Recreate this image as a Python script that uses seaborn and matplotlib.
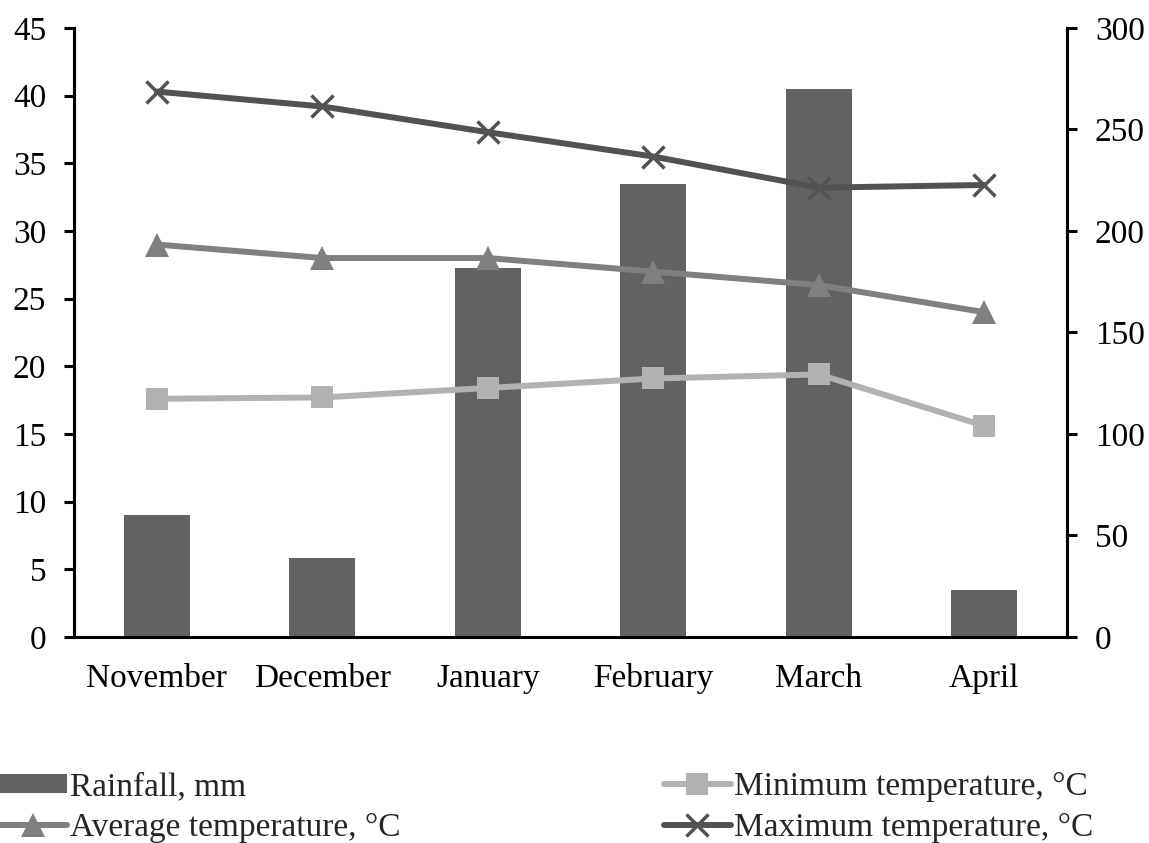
import numpy as np
import pandas as pd
import matplotlib
matplotlib.use("Agg")
import matplotlib.pyplot as plt
import seaborn as sns
from matplotlib.patches import Patch
from matplotlib.lines import Line2D

months = ["November", "December", "January", "February", "March", "April"]
rainfall = [60, 39, 182, 223, 270, 23]
t_min = [17.6, 17.7, 18.4, 19.1, 19.4, 15.6]
t_avg = [29.0, 28.0, 28.0, 27.0, 26.0, 24.0]
t_max = [40.3, 39.2, 37.3, 35.5, 33.2, 33.4]

sns.set_theme(style="white")
plt.rcParams['font.family'] = ['Liberation Serif', 'DejaVu Serif']

df = pd.DataFrame({"month": months, "rain": rainfall, "tmin": t_min,
                   "tavg": t_avg, "tmax": t_max, "pos": np.arange(len(months))})

fig = plt.figure(figsize=(11.49, 8.43), dpi=100)
ax = fig.add_axes([0.0645, 0.2444, 0.8642, 0.7224])

c_bar = "#626262"
c_max = "#525252"
c_avg = "#808080"
c_min = "#b2b2b2"
FS = 24

sns.barplot(data=df, x="pos", y="rain", ax=ax, color=c_bar, width=0.4,
            saturation=1, native_scale=True, edgecolor="none")
ax.set_ylim(0, 300)
ax.set_yticks(np.arange(0, 301, 50))
ax.set_xlim(-0.5, 5.5)
ax.set_xlabel("")
ax.set_ylabel("")

ax2 = ax.twinx()
ax.yaxis.tick_right()
ax.yaxis.set_label_position("right")
ax2.yaxis.tick_left()
ax2.yaxis.set_label_position("left")

sns.lineplot(data=df, x="pos", y="tmin", ax=ax2, color=c_min, lw=4.3,
             marker="s", markersize=16, markeredgewidth=0, sort=False)
sns.lineplot(data=df, x="pos", y="tavg", ax=ax2, color=c_avg, lw=4.3,
             marker="^", markersize=17, markeredgewidth=0, sort=False)
sns.lineplot(data=df, x="pos", y="tmax", ax=ax2, color=c_max, lw=4.3,
             marker="x", markersize=16, markeredgewidth=2.5,
             markeredgecolor=c_max, sort=False)
ax2.set_ylim(0, 45)
ax2.set_yticks(np.arange(0, 46, 5))
ax2.set_xlim(-0.5, 5.5)
ax2.set_xlabel("")
ax2.set_ylabel("")

ax.set_xticks(np.arange(len(months)))
ax.set_xticklabels(months)
ax.set_xticks(np.arange(-0.5, len(months), 1.0), minor=True)
ax.tick_params(axis="x", which="major", length=0, labelsize=FS, pad=19, labelcolor="black")
ax.tick_params(axis="x", which="minor", length=7, width=2.2, direction="out", color="black")
ax.tick_params(axis="y", length=7, width=2.2, direction="out", labelsize=FS, pad=13,
               color="black", labelcolor="black", left=False, labelleft=False,
               right=True, labelright=True)
ax2.tick_params(axis="y", length=7, width=2.2, direction="out", labelsize=FS, pad=13,
                color="black", labelcolor="black", left=True, labelleft=True,
                right=False, labelright=False)
ax2.tick_params(axis="x", length=0, labelbottom=False)

for a in (ax, ax2):
    a.spines["top"].set_visible(False)
    for s in ("left", "right", "bottom"):
        a.spines[s].set_linewidth(2.2)
        a.spines[s].set_color("black")
ax2.spines["bottom"].set_visible(False)
if ax2.get_legend():
    ax2.get_legend().remove()

h_rain = Patch(facecolor=c_bar, edgecolor="none", label="Rainfall, mm")
h_avg = Line2D([], [], color=c_avg, lw=4.3, marker="^", markersize=17, markeredgewidth=0, label="Average temperature, °C")
h_min = Line2D([], [], color=c_min, lw=4.3, marker="s", markersize=16, markeredgewidth=0, label="Minimum temperature, °C")
h_max = Line2D([], [], color=c_max, lw=4.3, marker="x", markersize=16, markeredgewidth=2.5, label="Maximum temperature, °C")

leg_kw = dict(frameon=False, fontsize=FS, handlelength=2.0, handletextpad=0.1,
              labelspacing=0.32, borderaxespad=0, borderpad=0, handleheight=0.5)
fig.legend(handles=[h_rain, h_avg], loc="lower left", bbox_to_anchor=(0.0, 0.0), **leg_kw)
fig.legend(handles=[h_min, h_max], loc="lower left", bbox_to_anchor=(0.578, 0.0), **leg_kw)

fig.savefig("out.png", dpi=100)
